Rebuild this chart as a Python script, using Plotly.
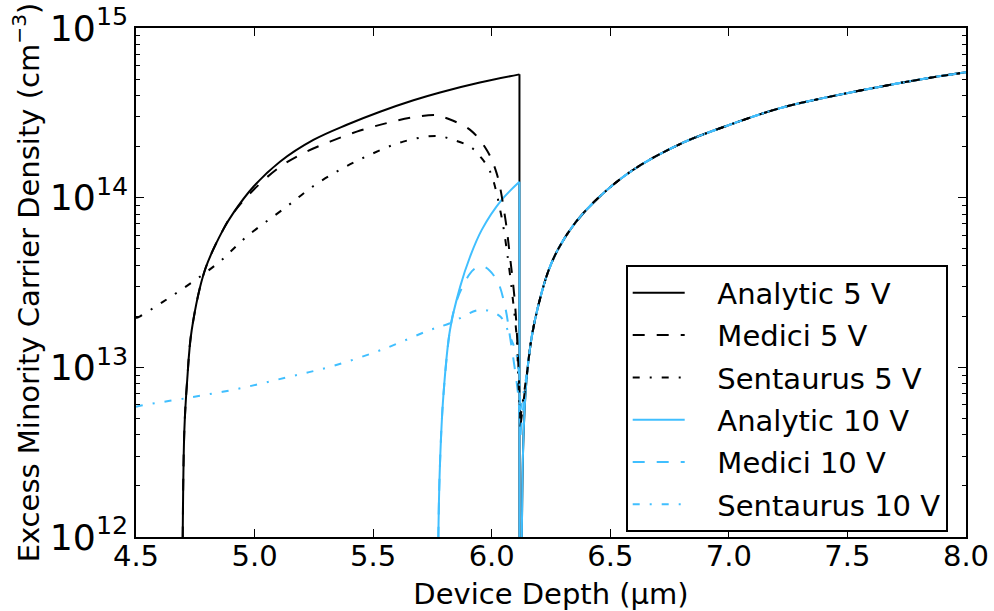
import plotly.graph_objects as go

BLACK = "#000000"
SKY = "#40bfff"
FONT = "DejaVu Sans"

# Zero density has no place on a log axis: drawn just below its lower edge
FLOOR = 1e11
# Junction depth (um) where the analytic profiles step down
JUNCTION = 6.117

# Deep-side branch shared by every curve beyond the junction
deep_x = [6.169, 6.197, 6.239, 6.281, 6.352, 6.450, 6.597, 6.794, 7.004,
          7.216, 7.427, 7.638, 7.849, 8.000]
deep_n = [1.52e13, 2.33e13, 3.70e13, 5.0e13, 7.1e13, 1.0e14, 1.46e14,
          2.07e14, 2.69e14, 3.37e14, 3.94e14, 4.51e14, 5.09e14, 5.48e14]

# Analytic profiles just past the junction
an_right_x = [6.125, 6.127, 6.134, 6.148]
an_right_n = [FLOOR, 1.0e12, 3.92e12, 8.83e12]

# Analytic 5 V, shallow side
a5_x = [4.696, 4.697, 4.704, 4.716, 4.735, 4.791, 4.867, 4.910, 4.995,
        5.107, 5.248, 5.389, 5.529, 5.670, 5.782, 5.950, JUNCTION]
a5_n = [FLOOR, 1.0e12, 4.3e12, 8.45e12, 1.66e13, 3.76e13, 6.46e13,
        8.11e13, 1.16e14, 1.63e14, 2.19e14, 2.69e14, 3.21e14, 3.75e14,
        4.17e14, 4.77e14, 5.33e14]

# Analytic 10 V, shallow side
a10_x = [5.773, 5.775, 5.782, 5.796, 5.824, 5.867, 5.909, 5.958, 6.042, JUNCTION]
a10_n = [FLOOR, 1.0e12, 2.73e12, 6.75e12, 1.66e13, 2.99e13, 4.50e13, 6.46e13,
         9.7e13, 1.24e14]

# Medici 5 V
m5_left_x = [4.696, 4.697, 4.704, 4.716, 4.735, 4.791, 4.867, 4.910,
             4.995, 5.107, 5.206, 5.318, 5.431, 5.557, 5.670, 5.770, 5.810,
             5.909, 5.979, 6.021, 6.056, 6.077, 6.098, 6.112, 6.121]
m5_left_n = [FLOOR, 1.0e12, 4.3e12, 8.45e12, 1.66e13, 3.76e13,
             6.46e13, 8.11e13, 1.11e14, 1.52e14, 1.83e14, 2.14e14, 2.45e14,
             2.75e14, 2.98e14, 3.06e14, 2.94e14, 2.51e14, 1.91e14, 1.39e14,
             7.74e13, 4.5e13, 2.39e13, 1.06e13, 4.47e12]
m5_right_x = [6.121, 6.148]
m5_right_n = [4.47e12, 9.0e12]

# Medici 10 V
m10_left_x = [5.773, 5.775, 5.782, 5.796, 5.824, 5.845, 5.874, 5.923, 5.965,
              6.021, 6.056, 6.077, 6.098, 6.112, 6.121]
m10_left_n = [FLOOR, 1.0e12, 2.73e12, 6.75e12, 1.66e13, 2.29e13, 2.93e13,
              3.76e13, 3.93e13, 3.28e13, 2.29e13, 1.52e13, 9.68e12, 6.75e12,
              4.0e12]
m10_right_x = [6.121, 6.148]
m10_right_n = [4.0e12, 9.0e12]

# Sentaurus 5 V
s5_left_x = [4.500, 4.517, 4.615, 4.742, 4.854, 4.967, 5.136, 5.248, 5.368,
             5.494, 5.627, 5.768, 5.838, 5.909, 5.951, 5.993, 6.040, 6.070,
             6.091, 6.106, 6.112, 6.121]
s5_left_n = [1.95e13, 2.0e13, 2.44e13, 3.21e13, 4.21e13, 5.90e13, 8.87e13,
             1.17e14, 1.48e14, 1.81e14, 2.14e14, 2.31e14, 2.19e14, 2.0e14,
             1.75e14, 1.43e14, 7.9e13, 4.2e13, 2.39e13, 1.46e13, 8.45e12,
             5.0e12]
s5_right_x = [6.121, 6.148]
s5_right_n = [5.0e12, 9.2e12]

# Sentaurus 10 V
s10_left_x = [4.500, 4.517, 4.714, 4.925, 5.136, 5.332, 5.543, 5.740, 5.824,
              5.951, 6.035, 6.077, 6.106, 6.121]
s10_left_n = [5.86e12, 5.94e12, 6.59e12, 7.45e12, 8.73e12, 1.02e13, 1.28e13,
              1.66e13, 1.82e13, 2.18e13, 2.0e13, 1.52e13, 1.16e13, 5.6e12]
s10_right_x = [6.121, 6.148]
s10_right_n = [5.6e12, 9.2e12]

DASH = "12px,12px"
DASHDOT = "7px,10px,2px,10px"
# Gap between a legend sample line and its label
LABEL_PAD = "\u00a0\u00a0\u00a0"


def joined(*segments):
    """Concatenate curve segments, separated by gaps so each is smoothed alone."""
    out = []
    for i, seg in enumerate(segments):
        if i:
            out.append(None)
        out.extend(seg)
    return out


def analytic(left_x, left_n):
    xs = joined(left_x, [JUNCTION, JUNCTION], an_right_x + deep_x)
    ys = joined(left_n, [left_n[-1], FLOOR], an_right_n + deep_n)
    return xs, ys


def simulated(left_x, left_n, right_x, right_n):
    xs = joined(left_x, right_x + deep_x)
    ys = joined(left_n, right_n + deep_n)
    return xs, ys


series = [
    # name, (x, y), colour, dash, legend rank
    ("Analytic 5 V", analytic(a5_x, a5_n), BLACK, "solid", 1),
    ("Analytic 10 V", analytic(a10_x, a10_n), SKY, "solid", 4),
    ("Medici 5 V", simulated(m5_left_x, m5_left_n, m5_right_x, m5_right_n), BLACK, DASH, 2),
    ("Medici 10 V", simulated(m10_left_x, m10_left_n, m10_right_x, m10_right_n), SKY, DASH, 5),
    ("Sentaurus 5 V", simulated(s5_left_x, s5_left_n, s5_right_x, s5_right_n), BLACK, DASHDOT, 3),
    ("Sentaurus 10 V", simulated(s10_left_x, s10_left_n, s10_right_x, s10_right_n), SKY, DASHDOT, 6),
]

fig = go.Figure()
for name, (xs, ys), colour, dash, rank in series:
    fig.add_trace(go.Scatter(
        x=xs, y=ys, name=LABEL_PAD + name, mode="lines",
        line=dict(color=colour, width=2, dash=dash, shape="spline", smoothing=1.0),
        connectgaps=False, legendrank=rank, legendgroup=name,
    ))

axis_common = dict(
    showline=True, linecolor=BLACK, linewidth=2, mirror="ticks",
    ticks="inside", ticklen=8, tickwidth=1.2, tickcolor=BLACK,
    showgrid=False, zeroline=False, automargin=False,
    tickfont=dict(family=FONT, size=29, color=BLACK),
)

fig.update_xaxes(
    range=[4.5, 8.0], dtick=0.5, tick0=4.5, tickformat=".1f",
    ticklabelstandoff=-8,
    title=dict(text="Device Depth (\u00b5m)", font=dict(family=FONT, size=29, color=BLACK)),
    **axis_common,
)
fig.update_yaxes(
    type="log", range=[12, 15], dtick=1, exponentformat="power",
    minor=dict(ticks="inside", ticklen=4, dtick="D1", tickcolor=BLACK, tickwidth=1.2,
               showgrid=False),
    title=dict(text="Excess Minority Carrier Density (cm<sup>\u22123</sup>)",
               font=dict(family=FONT, size=29, color=BLACK), standoff=2),
    **axis_common,
)

fig.update_layout(
    width=994, height=611,
    margin=dict(l=136, r=28, t=28, b=74),
    paper_bgcolor="white", plot_bgcolor="white",
    font=dict(family=FONT, size=29, color=BLACK),
    showlegend=True,
    legend=dict(
        x=0.590, y=0.5335, xanchor="left", yanchor="top",
        bgcolor="white", bordercolor=BLACK, borderwidth=2,
        font=dict(family=FONT, size=29, color=BLACK),
        traceorder="grouped", tracegroupgap=1.6, itemwidth=52,
    ),
)

fig.write_html("out.html")
